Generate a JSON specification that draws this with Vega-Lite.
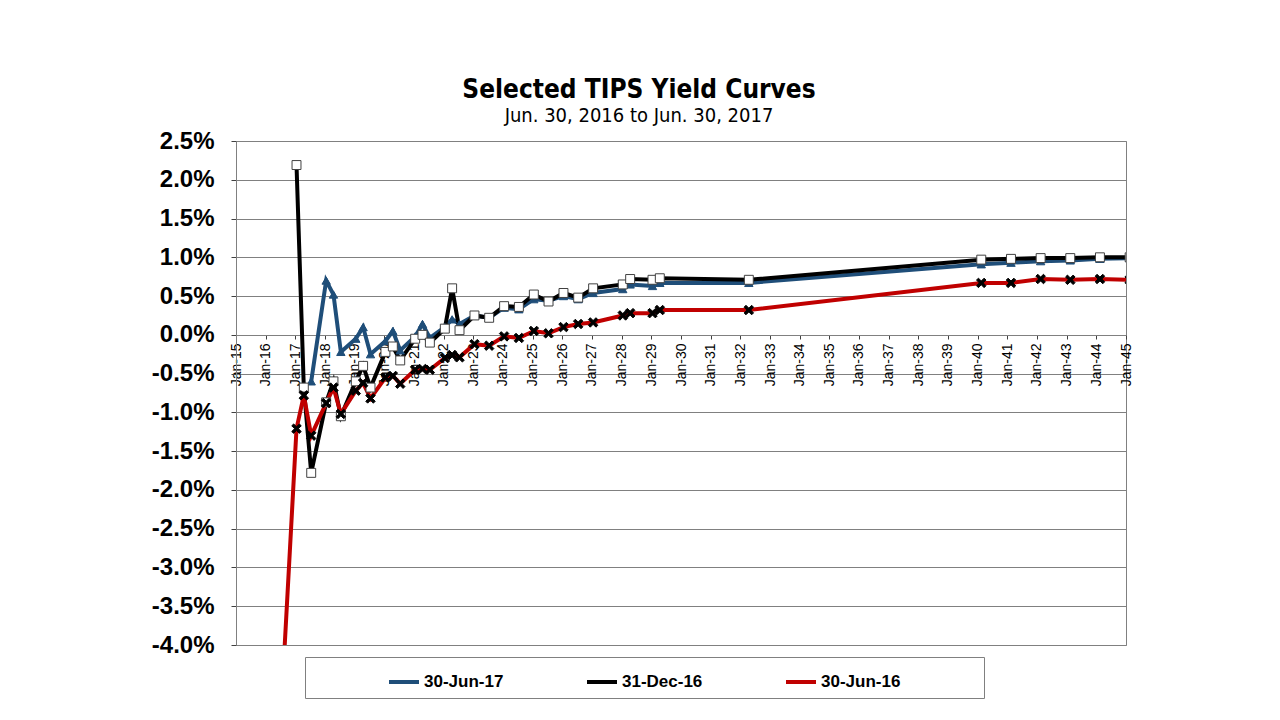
{
  "$schema": "https://vega.github.io/schema/vega-lite/v6.json",
  "description": "Selected TIPS Yield Curves",
  "autosize": "none",
  "width": 890,
  "height": 504,
  "padding": {"left": 236, "top": 141, "right": 154, "bottom": 75},
  "background": "white",
  "title": {
    "text": "Selected TIPS Yield Curves",
    "subtitle": "Jun. 30, 2016 to Jun. 30, 2017",
    "font": "DejaVu Sans Condensed, DejaVu Sans",
    "fontSize": 26,
    "fontWeight": "bold",
    "color": "black",
    "subtitleFont": "DejaVu Sans Condensed, DejaVu Sans",
    "subtitleFontSize": 20,
    "subtitleColor": "black",
    "subtitlePadding": 3,
    "anchor": "middle",
    "dx": -42,
    "offset": 3
  },
  "data": {
    "values": [
      {"series": "30-Jun-17", "date": "2017-07-15", "yield": -0.0060},
      {"series": "30-Jun-17", "date": "2018-01-15", "yield": 0.0070},
      {"series": "30-Jun-17", "date": "2018-04-15", "yield": 0.0052},
      {"series": "30-Jun-17", "date": "2018-07-15", "yield": -0.0022},
      {"series": "30-Jun-17", "date": "2019-01-15", "yield": -0.0005},
      {"series": "30-Jun-17", "date": "2019-04-15", "yield": 0.0010},
      {"series": "30-Jun-17", "date": "2019-07-15", "yield": -0.0025},
      {"series": "30-Jun-17", "date": "2020-01-15", "yield": -0.0008},
      {"series": "30-Jun-17", "date": "2020-04-15", "yield": 0.0005},
      {"series": "30-Jun-17", "date": "2020-07-15", "yield": -0.0020},
      {"series": "30-Jun-17", "date": "2021-01-15", "yield": -0.0002},
      {"series": "30-Jun-17", "date": "2021-04-15", "yield": 0.0014},
      {"series": "30-Jun-17", "date": "2021-07-15", "yield": -0.0004},
      {"series": "30-Jun-17", "date": "2022-01-15", "yield": 0.0010},
      {"series": "30-Jun-17", "date": "2022-04-15", "yield": 0.0020},
      {"series": "30-Jun-17", "date": "2022-07-15", "yield": 0.0014},
      {"series": "30-Jun-17", "date": "2023-01-15", "yield": 0.0025},
      {"series": "30-Jun-17", "date": "2023-07-15", "yield": 0.0022},
      {"series": "30-Jun-17", "date": "2024-01-15", "yield": 0.0035},
      {"series": "30-Jun-17", "date": "2024-07-15", "yield": 0.0033},
      {"series": "30-Jun-17", "date": "2025-01-15", "yield": 0.0046},
      {"series": "30-Jun-17", "date": "2025-07-15", "yield": 0.0044},
      {"series": "30-Jun-17", "date": "2026-01-15", "yield": 0.0050},
      {"series": "30-Jun-17", "date": "2026-07-15", "yield": 0.0046},
      {"series": "30-Jun-17", "date": "2027-01-15", "yield": 0.0054},
      {"series": "30-Jun-17", "date": "2028-01-15", "yield": 0.0059},
      {"series": "30-Jun-17", "date": "2028-04-15", "yield": 0.0065},
      {"series": "30-Jun-17", "date": "2029-01-15", "yield": 0.0063},
      {"series": "30-Jun-17", "date": "2029-04-15", "yield": 0.0067},
      {"series": "30-Jun-17", "date": "2032-04-15", "yield": 0.0067},
      {"series": "30-Jun-17", "date": "2040-02-15", "yield": 0.0091},
      {"series": "30-Jun-17", "date": "2041-02-15", "yield": 0.0093},
      {"series": "30-Jun-17", "date": "2042-02-15", "yield": 0.0095},
      {"series": "30-Jun-17", "date": "2043-02-15", "yield": 0.0096},
      {"series": "30-Jun-17", "date": "2044-02-15", "yield": 0.0098},
      {"series": "30-Jun-17", "date": "2045-02-15", "yield": 0.0099},
      {"series": "31-Dec-16", "date": "2017-01-15", "yield": 0.0219},
      {"series": "31-Dec-16", "date": "2017-04-15", "yield": -0.0068},
      {"series": "31-Dec-16", "date": "2017-07-15", "yield": -0.0178},
      {"series": "31-Dec-16", "date": "2018-01-15", "yield": -0.0087},
      {"series": "31-Dec-16", "date": "2018-04-15", "yield": -0.0060},
      {"series": "31-Dec-16", "date": "2018-07-15", "yield": -0.0105},
      {"series": "31-Dec-16", "date": "2019-01-15", "yield": -0.0060},
      {"series": "31-Dec-16", "date": "2019-04-15", "yield": -0.0040},
      {"series": "31-Dec-16", "date": "2019-07-15", "yield": -0.0068},
      {"series": "31-Dec-16", "date": "2020-01-15", "yield": -0.0022},
      {"series": "31-Dec-16", "date": "2020-04-15", "yield": -0.0015},
      {"series": "31-Dec-16", "date": "2020-07-15", "yield": -0.0033},
      {"series": "31-Dec-16", "date": "2021-01-15", "yield": -0.0005},
      {"series": "31-Dec-16", "date": "2021-04-15", "yield": 0.0000},
      {"series": "31-Dec-16", "date": "2021-07-15", "yield": -0.0010},
      {"series": "31-Dec-16", "date": "2022-01-15", "yield": 0.0008},
      {"series": "31-Dec-16", "date": "2022-04-15", "yield": 0.0060},
      {"series": "31-Dec-16", "date": "2022-07-15", "yield": 0.0006},
      {"series": "31-Dec-16", "date": "2023-01-15", "yield": 0.0025},
      {"series": "31-Dec-16", "date": "2023-07-15", "yield": 0.0022},
      {"series": "31-Dec-16", "date": "2024-01-15", "yield": 0.0037},
      {"series": "31-Dec-16", "date": "2024-07-15", "yield": 0.0036},
      {"series": "31-Dec-16", "date": "2025-01-15", "yield": 0.0052},
      {"series": "31-Dec-16", "date": "2025-07-15", "yield": 0.0043},
      {"series": "31-Dec-16", "date": "2026-01-15", "yield": 0.0054},
      {"series": "31-Dec-16", "date": "2026-07-15", "yield": 0.0048},
      {"series": "31-Dec-16", "date": "2027-01-15", "yield": 0.0060},
      {"series": "31-Dec-16", "date": "2028-01-15", "yield": 0.0065},
      {"series": "31-Dec-16", "date": "2028-04-15", "yield": 0.0072},
      {"series": "31-Dec-16", "date": "2029-01-15", "yield": 0.0071},
      {"series": "31-Dec-16", "date": "2029-04-15", "yield": 0.0073},
      {"series": "31-Dec-16", "date": "2032-04-15", "yield": 0.0071},
      {"series": "31-Dec-16", "date": "2040-02-15", "yield": 0.0097},
      {"series": "31-Dec-16", "date": "2041-02-15", "yield": 0.0098},
      {"series": "31-Dec-16", "date": "2042-02-15", "yield": 0.0099},
      {"series": "31-Dec-16", "date": "2043-02-15", "yield": 0.0099},
      {"series": "31-Dec-16", "date": "2044-02-15", "yield": 0.0100},
      {"series": "31-Dec-16", "date": "2045-02-15", "yield": 0.0100},
      {"series": "30-Jun-16", "date": "2016-07-15", "yield": -0.0475},
      {"series": "30-Jun-16", "date": "2017-01-15", "yield": -0.0121},
      {"series": "30-Jun-16", "date": "2017-04-15", "yield": -0.0078},
      {"series": "30-Jun-16", "date": "2017-07-15", "yield": -0.0130},
      {"series": "30-Jun-16", "date": "2018-01-15", "yield": -0.0088},
      {"series": "30-Jun-16", "date": "2018-04-15", "yield": -0.0068},
      {"series": "30-Jun-16", "date": "2018-07-15", "yield": -0.0102},
      {"series": "30-Jun-16", "date": "2019-01-15", "yield": -0.0072},
      {"series": "30-Jun-16", "date": "2019-04-15", "yield": -0.0062},
      {"series": "30-Jun-16", "date": "2019-07-15", "yield": -0.0082},
      {"series": "30-Jun-16", "date": "2020-01-15", "yield": -0.0055},
      {"series": "30-Jun-16", "date": "2020-04-15", "yield": -0.0053},
      {"series": "30-Jun-16", "date": "2020-07-15", "yield": -0.0063},
      {"series": "30-Jun-16", "date": "2021-01-15", "yield": -0.0045},
      {"series": "30-Jun-16", "date": "2021-04-15", "yield": -0.0044},
      {"series": "30-Jun-16", "date": "2021-07-15", "yield": -0.0045},
      {"series": "30-Jun-16", "date": "2022-01-15", "yield": -0.0030},
      {"series": "30-Jun-16", "date": "2022-04-15", "yield": -0.0026},
      {"series": "30-Jun-16", "date": "2022-07-15", "yield": -0.0029},
      {"series": "30-Jun-16", "date": "2023-01-15", "yield": -0.0012},
      {"series": "30-Jun-16", "date": "2023-07-15", "yield": -0.0014},
      {"series": "30-Jun-16", "date": "2024-01-15", "yield": -0.0002},
      {"series": "30-Jun-16", "date": "2024-07-15", "yield": -0.0004},
      {"series": "30-Jun-16", "date": "2025-01-15", "yield": 0.0005},
      {"series": "30-Jun-16", "date": "2025-07-15", "yield": 0.0002},
      {"series": "30-Jun-16", "date": "2026-01-15", "yield": 0.0010},
      {"series": "30-Jun-16", "date": "2026-07-15", "yield": 0.0014},
      {"series": "30-Jun-16", "date": "2027-01-15", "yield": 0.0016},
      {"series": "30-Jun-16", "date": "2028-01-15", "yield": 0.0025},
      {"series": "30-Jun-16", "date": "2028-04-15", "yield": 0.0028},
      {"series": "30-Jun-16", "date": "2029-01-15", "yield": 0.0028},
      {"series": "30-Jun-16", "date": "2029-04-15", "yield": 0.0032},
      {"series": "30-Jun-16", "date": "2032-04-15", "yield": 0.0032},
      {"series": "30-Jun-16", "date": "2040-02-15", "yield": 0.0067},
      {"series": "30-Jun-16", "date": "2041-02-15", "yield": 0.0067},
      {"series": "30-Jun-16", "date": "2042-02-15", "yield": 0.0072},
      {"series": "30-Jun-16", "date": "2043-02-15", "yield": 0.0071},
      {"series": "30-Jun-16", "date": "2044-02-15", "yield": 0.0072},
      {"series": "30-Jun-16", "date": "2045-02-15", "yield": 0.0071}
    ]
  },
  "encoding": {
    "x": {
      "field": "date",
      "type": "temporal",
      "scale": {
        "type": "utc",
        "domain": [
          {"year": 2015, "month": 1, "date": 1, "utc": true},
          {"year": 2045, "month": 1, "date": 1, "utc": true}
        ],
        "nice": false
      },
      "axis": {
        "title": null,
        "orient": "bottom",
        "offset": -310,
        "grid": false,
        "tickCount": {"interval": "year", "step": 1},
        "format": "%b-%y",
        "labelAngle": 270,
        "labelFont": "Liberation Sans",
        "labelFontSize": 14,
        "labelColor": "black",
        "labelPadding": 4,
        "labelOverlap": false,
        "labelFlush": false,
        "domainColor": "#808080",
        "tickColor": "#404040",
        "tickSize": 4,
        "zindex": 0
      }
    },
    "y": {
      "field": "yield",
      "type": "quantitative",
      "scale": {"domain": [-0.04, 0.025], "nice": false, "zero": false},
      "axis": {
        "title": null,
        "values": [-0.04, -0.035, -0.03, -0.025, -0.02, -0.015, -0.01, -0.005, 0, 0.005, 0.01, 0.015, 0.02, 0.025],
        "labelExpr": "replace(format(datum.value, '.1%'), '\u2212', '-')",
        "labelFont": "Liberation Sans",
        "labelFontSize": 24,
        "labelFontWeight": "bold",
        "labelColor": "black",
        "labelPadding": 17,
        "grid": true,
        "gridColor": "#808080",
        "gridWidth": 1,
        "domainColor": "#808080",
        "tickColor": "#404040",
        "tickSize": 5,
        "zindex": 0
      }
    }
  },
  "layer": [
    {
      "mark": {"type": "line", "strokeWidth": 4, "clip": true},
      "encoding": {
        "color": {
          "field": "series",
          "type": "nominal",
          "sort": null,
          "scale": {
            "domain": ["30-Jun-17", "31-Dec-16", "30-Jun-16"],
            "range": ["#1F4E79", "#000000", "#C00000"]
          },
          "legend": {
            "orient": "none",
            "legendX": 69,
            "legendY": 516,
            "direction": "horizontal",
            "title": " ",
            "titleOrient": "left",
            "titleFontSize": 1,
            "titlePadding": 74,
            "strokeColor": "#808080",
            "fillColor": "white",
            "padding": 8,
            "columnPadding": 0,
            "labelFont": "Liberation Sans",
            "labelFontWeight": "bold",
            "labelFontSize": 17,
            "labelColor": "black",
            "labelOffset": 3,
            "labelLimit": 400,
            "labelExpr": "datum.label + '\u00a0\u00a0\u00a0\u00a0\u00a0\u00a0\u00a0\u00a0\u00a0\u00a0\u00a0\u00a0\u00a0\u00a0\u00a0\u00a0\u200b'",
            "symbolType": "M-1,0H1",
            "symbolSize": 900,
            "symbolStrokeWidth": 4
          }
        }
      }
    },
    {
      "transform": [{"filter": "datum.series === '30-Jun-17'"}],
      "mark": {"type": "point", "shape": "triangle-up", "filled": true, "size": 70, "fill": "#1F4E79", "stroke": "#1F4E79", "strokeWidth": 1, "opacity": 1, "clip": true},
      "encoding": {}
    },
    {
      "transform": [{"filter": "datum.series === '31-Dec-16'"}],
      "mark": {"type": "point", "shape": "square", "filled": true, "size": 80, "fill": "#FFFFFF", "stroke": "#404040", "strokeWidth": 1, "opacity": 1, "clip": true},
      "encoding": {}
    },
    {
      "transform": [{"filter": "datum.series === '30-Jun-16'"}],
      "mark": {"type": "point", "shape": "M-1,-0.6L-0.6,-1L0,-0.4L0.6,-1L1,-0.6L0.4,0L1,0.6L0.6,1L0,0.4L-0.6,1L-1,0.6L-0.4,0Z", "filled": true, "size": 90, "fill": "#000000", "stroke": "#000000", "strokeWidth": 1, "opacity": 1, "clip": true},
      "encoding": {}
    }
  ],
  "config": {
    "view": {"stroke": "#808080", "strokeWidth": 1},
    "axis": {"labelFont": "Liberation Sans"}
  }
}
